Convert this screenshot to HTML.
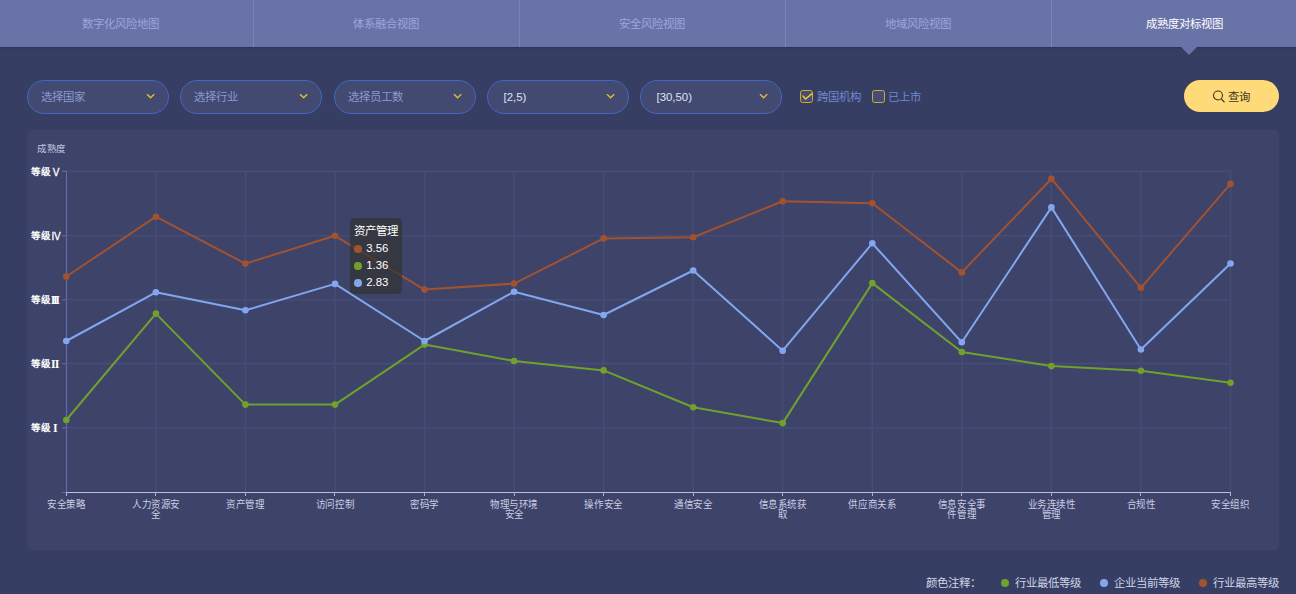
<!DOCTYPE html>
<html lang="zh-CN">
<head>
<meta charset="utf-8">
<title>成熟度对标视图</title>
<style>
*{box-sizing:border-box;margin:0;padding:0}
html,body{width:1296px;height:594px;overflow:hidden;background:#373e63}
body{position:relative;font-family:"Liberation Sans",sans-serif;font-size:11.4px;color:#fff}
.tabs{position:absolute;left:0;top:0;width:1296px;height:47px;background:#6a73a8;box-shadow:0 1px 1px rgba(30,34,70,.3)}
.tab{position:absolute;top:0;width:266px;height:47px;line-height:47px;padding-top:1px;text-align:center;color:#9aa7df;font-size:11.4px;white-space:nowrap}
.tab.on{color:#fff}
.dv{position:absolute;top:0;width:1px;height:47px;background:#7a84b8}
.tri{position:absolute;left:1180.7px;top:47px;width:0;height:0;border-left:8px solid transparent;border-right:8px solid transparent;border-top:8.5px solid #6a73a8}
.sel{position:absolute;top:80px;width:142px;height:34px;border:1px solid #4166c5;border-radius:17px;background:#434a72;line-height:32px;padding-left:12.5px;font-size:11.4px;white-space:nowrap}
.sel .ph{color:#8b98d0}
.sel .val{color:#dfe3f5;padding-left:3px}
.chev{position:absolute;left:118px;top:12px}
.cb{position:absolute;top:90px;width:12.6px;height:12.8px;border:1.4px solid #cdae20;border-radius:2.6px;background:#454c78}
.cbt{position:absolute;top:88.5px;height:16px;line-height:16px;color:#7088d2;font-size:11.4px;white-space:nowrap}
.btn{position:absolute;left:1184px;top:80px;width:95px;height:32px;border-radius:16px;background:#fedb78;color:#3b3622;font-size:11.4px;line-height:32px;white-space:nowrap}
.btn span{position:absolute;left:44px;top:1px}
.btn svg{position:absolute;left:28.3px;top:10.3px}
.panel{position:absolute;left:26.6px;top:129.8px;width:1252.6px;height:419.8px;background:#3e4369;border-radius:5px}
.chart{position:absolute;left:0;top:0}
.ttl{position:absolute;left:37px;top:143px;font-size:9.5px;letter-spacing:-0.3px;line-height:12px;color:#c4c9e2;white-space:nowrap}
.yl{position:absolute;left:31px;text-align:left;font-size:9.5px;line-height:14px;color:#fff;font-weight:bold;white-space:nowrap}
.yl b{display:inline-block;width:9.6px;text-align:center;margin-left:0.2px}
.rn{font-family:"Liberation Serif",serif;font-size:12px;letter-spacing:-2.4px;text-indent:-2.4px;line-height:10px;position:relative;top:0.8px;left:-0.7px}
.rs{font-size:10px;line-height:10px;font-weight:normal;-webkit-text-stroke:0.3px #fff;position:relative;top:0.7px}
.xl{position:absolute;top:499px;width:80px;text-align:center;font-size:9.5px;letter-spacing:-0.45px;line-height:9.2px;transform:scaleY(1.09);transform-origin:50% 0;color:#c9cde3;white-space:nowrap}
.tip{position:absolute;left:350px;top:217.6px;width:52.2px;height:76.5px;background:rgba(50,50,50,.7);border-radius:4px;padding:4px;font-size:11.4px;line-height:17.4px;color:#fff;white-space:nowrap}
.tr{position:absolute;left:4.2px;height:17px;line-height:17px}
.tip i{display:inline-block;width:7.6px;height:7.6px;border-radius:50%;margin-right:4.4px;vertical-align:-0.5px}
.lg{position:absolute;top:575px;height:16px;line-height:16px;font-size:11.4px;color:#d0d4e8;white-space:nowrap}
.ld{position:absolute;top:579.1px;width:8.4px;height:8.4px;border-radius:50%}
</style>
</head>
<body>
<div class="tabs">
<div class="tab" style="left:-13px">数字化风险地图</div>
<div class="dv" style="left:253px"></div>
<div class="tab" style="left:253px">体系融合视图</div>
<div class="dv" style="left:519px"></div>
<div class="tab" style="left:519px">安全风险视图</div>
<div class="dv" style="left:785px"></div>
<div class="tab" style="left:785px">地域风险视图</div>
<div class="dv" style="left:1051px"></div>
<div class="tab on" style="left:1051px">成熟度对标视图</div>
</div>
<div class="tri"></div>
<div class="sel" style="left:27px"><span class="ph">选择国家</span><svg class="chev" width="10" height="7" viewBox="0 0 10 7"><path d="M1.3 1.6 L4.6 4.7 L7.9 1.6" fill="none" stroke="#e4c22b" stroke-width="1.35" stroke-linecap="round" stroke-linejoin="round"/></svg></div>
<div class="sel" style="left:180px"><span class="ph">选择行业</span><svg class="chev" width="10" height="7" viewBox="0 0 10 7"><path d="M1.3 1.6 L4.6 4.7 L7.9 1.6" fill="none" stroke="#e4c22b" stroke-width="1.35" stroke-linecap="round" stroke-linejoin="round"/></svg></div>
<div class="sel" style="left:334px"><span class="ph">选择员工数</span><svg class="chev" width="10" height="7" viewBox="0 0 10 7"><path d="M1.3 1.6 L4.6 4.7 L7.9 1.6" fill="none" stroke="#e4c22b" stroke-width="1.35" stroke-linecap="round" stroke-linejoin="round"/></svg></div>
<div class="sel" style="left:487px"><span class="val">[2,5)</span><svg class="chev" width="10" height="7" viewBox="0 0 10 7"><path d="M1.3 1.6 L4.6 4.7 L7.9 1.6" fill="none" stroke="#e4c22b" stroke-width="1.35" stroke-linecap="round" stroke-linejoin="round"/></svg></div>
<div class="sel" style="left:640px"><span class="val">[30,50)</span><svg class="chev" width="10" height="7" viewBox="0 0 10 7"><path d="M1.3 1.6 L4.6 4.7 L7.9 1.6" fill="none" stroke="#e4c22b" stroke-width="1.35" stroke-linecap="round" stroke-linejoin="round"/></svg></div>

<div class="cb" style="left:800px"><svg width="13" height="13" viewBox="0 0 13 13" style="position:absolute;left:-1.5px;top:-1.5px"><path d="M3 6 L5.6 9 L12 3.6" fill="none" stroke="#f0cf1f" stroke-width="1.5" stroke-linecap="round" stroke-linejoin="round"/></svg></div>
<div class="cbt" style="left:816.5px">跨国机构</div>
<div class="cb" style="left:872px"></div>
<div class="cbt" style="left:887.5px">已上市</div>
<div class="btn"><svg width="14" height="14" viewBox="0 0 14 14"><circle cx="6" cy="5.5" r="4.5" fill="none" stroke="#3b3622" stroke-width="1.1"/><path d="M9.2 8.8 L12.2 12" stroke="#3b3622" stroke-width="1.1" stroke-linecap="round"/></svg><span>查询</span></div>
<div class="panel"></div>
<svg class="chart" width="1296" height="594" viewBox="0 0 1296 594">
<line x1="66" y1="171.4" x2="1231" y2="171.4" stroke="#454c75" stroke-width="1.6"/>
<line x1="66" y1="235.7" x2="1231" y2="235.7" stroke="#454c75" stroke-width="1.6"/>
<line x1="66" y1="299.8" x2="1231" y2="299.8" stroke="#454c75" stroke-width="1.6"/>
<line x1="66" y1="363.6" x2="1231" y2="363.6" stroke="#454c75" stroke-width="1.6"/>
<line x1="66" y1="427.7" x2="1231" y2="427.7" stroke="#454c75" stroke-width="1.6"/>
<line x1="155.85" y1="171" x2="155.85" y2="492" stroke="#454c75" stroke-width="1.6"/>
<line x1="245.41" y1="171" x2="245.41" y2="492" stroke="#454c75" stroke-width="1.6"/>
<line x1="334.96" y1="171" x2="334.96" y2="492" stroke="#454c75" stroke-width="1.6"/>
<line x1="424.51" y1="171" x2="424.51" y2="492" stroke="#454c75" stroke-width="1.6"/>
<line x1="514.06" y1="171" x2="514.06" y2="492" stroke="#454c75" stroke-width="1.6"/>
<line x1="603.62" y1="171" x2="603.62" y2="492" stroke="#454c75" stroke-width="1.6"/>
<line x1="693.17" y1="171" x2="693.17" y2="492" stroke="#454c75" stroke-width="1.6"/>
<line x1="782.72" y1="171" x2="782.72" y2="492" stroke="#454c75" stroke-width="1.6"/>
<line x1="872.28" y1="171" x2="872.28" y2="492" stroke="#454c75" stroke-width="1.6"/>
<line x1="961.83" y1="171" x2="961.83" y2="492" stroke="#454c75" stroke-width="1.6"/>
<line x1="1051.38" y1="171" x2="1051.38" y2="492" stroke="#454c75" stroke-width="1.6"/>
<line x1="1140.94" y1="171" x2="1140.94" y2="492" stroke="#454c75" stroke-width="1.6"/>
<line x1="1230.49" y1="171" x2="1230.49" y2="492" stroke="#454c75" stroke-width="1.6"/>
<line x1="66.5" y1="171" x2="66.5" y2="492" stroke="#5e6db0" stroke-width="1.15"/>
<line x1="62" y1="171.4" x2="67" y2="171.4" stroke="#5a69ad" stroke-width="1.2"/>
<line x1="62" y1="235.7" x2="67" y2="235.7" stroke="#5a69ad" stroke-width="1.2"/>
<line x1="62" y1="299.8" x2="67" y2="299.8" stroke="#5a69ad" stroke-width="1.2"/>
<line x1="62" y1="363.6" x2="67" y2="363.6" stroke="#5a69ad" stroke-width="1.2"/>
<line x1="62" y1="427.7" x2="67" y2="427.7" stroke="#5a69ad" stroke-width="1.2"/>
<line x1="62" y1="492.5" x2="67" y2="492.5" stroke="#5a69ad" stroke-width="1.2"/>
<line x1="66" y1="492.5" x2="1231" y2="492.5" stroke="#b6bddd" stroke-width="1"/>
<line x1="66.5" y1="492" x2="66.5" y2="496" stroke="#a9b1d5" stroke-width="1"/>
<line x1="155.5" y1="492" x2="155.5" y2="496" stroke="#a9b1d5" stroke-width="1"/>
<line x1="245.5" y1="492" x2="245.5" y2="496" stroke="#a9b1d5" stroke-width="1"/>
<line x1="334.5" y1="492" x2="334.5" y2="496" stroke="#a9b1d5" stroke-width="1"/>
<line x1="424.5" y1="492" x2="424.5" y2="496" stroke="#a9b1d5" stroke-width="1"/>
<line x1="514.5" y1="492" x2="514.5" y2="496" stroke="#a9b1d5" stroke-width="1"/>
<line x1="603.5" y1="492" x2="603.5" y2="496" stroke="#a9b1d5" stroke-width="1"/>
<line x1="693.5" y1="492" x2="693.5" y2="496" stroke="#a9b1d5" stroke-width="1"/>
<line x1="782.5" y1="492" x2="782.5" y2="496" stroke="#a9b1d5" stroke-width="1"/>
<line x1="872.5" y1="492" x2="872.5" y2="496" stroke="#a9b1d5" stroke-width="1"/>
<line x1="961.5" y1="492" x2="961.5" y2="496" stroke="#a9b1d5" stroke-width="1"/>
<line x1="1051.5" y1="492" x2="1051.5" y2="496" stroke="#a9b1d5" stroke-width="1"/>
<line x1="1140.5" y1="492" x2="1140.5" y2="496" stroke="#a9b1d5" stroke-width="1"/>
<line x1="1230.5" y1="492" x2="1230.5" y2="496" stroke="#a9b1d5" stroke-width="1"/>
<polyline points="66.3,276.5 155.9,216.7 245.4,263.6 335.0,235.8 424.5,289.6 514.1,283.6 603.6,238.4 693.2,237.3 782.7,201.2 872.3,203.2 961.8,272.4 1051.4,178.7 1140.9,287.8 1230.5,183.9" fill="none" stroke="#a2522e" stroke-width="2" stroke-linejoin="bevel"/>
<circle cx="66.3" cy="276.5" r="3.3" fill="#a2522e"/><circle cx="155.9" cy="216.7" r="3.3" fill="#a2522e"/><circle cx="245.4" cy="263.6" r="3.3" fill="#a2522e"/><circle cx="335.0" cy="235.8" r="3.3" fill="#a2522e"/><circle cx="424.5" cy="289.6" r="3.3" fill="#a2522e"/><circle cx="514.1" cy="283.6" r="3.3" fill="#a2522e"/><circle cx="603.6" cy="238.4" r="3.3" fill="#a2522e"/><circle cx="693.2" cy="237.3" r="3.3" fill="#a2522e"/><circle cx="782.7" cy="201.2" r="3.3" fill="#a2522e"/><circle cx="872.3" cy="203.2" r="3.3" fill="#a2522e"/><circle cx="961.8" cy="272.4" r="3.3" fill="#a2522e"/><circle cx="1051.4" cy="178.7" r="3.3" fill="#a2522e"/><circle cx="1140.9" cy="287.8" r="3.3" fill="#a2522e"/><circle cx="1230.5" cy="183.9" r="3.3" fill="#a2522e"/>
<polyline points="66.3,420.0 155.9,313.6 245.4,404.6 335.0,404.6 424.5,344.6 514.1,361.0 603.6,370.4 693.2,407.2 782.7,423.1 872.3,283.1 961.8,352.0 1051.4,366.1 1140.9,370.7 1230.5,382.7" fill="none" stroke="#70a12d" stroke-width="2" stroke-linejoin="bevel"/>
<circle cx="66.3" cy="420.0" r="3.3" fill="#70a12d"/><circle cx="155.9" cy="313.6" r="3.3" fill="#70a12d"/><circle cx="245.4" cy="404.6" r="3.3" fill="#70a12d"/><circle cx="335.0" cy="404.6" r="3.3" fill="#70a12d"/><circle cx="424.5" cy="344.6" r="3.3" fill="#70a12d"/><circle cx="514.1" cy="361.0" r="3.3" fill="#70a12d"/><circle cx="603.6" cy="370.4" r="3.3" fill="#70a12d"/><circle cx="693.2" cy="407.2" r="3.3" fill="#70a12d"/><circle cx="782.7" cy="423.1" r="3.3" fill="#70a12d"/><circle cx="872.3" cy="283.1" r="3.3" fill="#70a12d"/><circle cx="961.8" cy="352.0" r="3.3" fill="#70a12d"/><circle cx="1051.4" cy="366.1" r="3.3" fill="#70a12d"/><circle cx="1140.9" cy="370.7" r="3.3" fill="#70a12d"/><circle cx="1230.5" cy="382.7" r="3.3" fill="#70a12d"/>
<polyline points="66.3,341.0 155.9,292.3 245.4,310.3 335.0,283.9 424.5,341.0 514.1,291.7 603.6,315.0 693.2,270.5 782.7,350.7 872.3,243.3 961.8,342.3 1051.4,207.4 1140.9,349.5 1230.5,263.5" fill="none" stroke="#83a6f0" stroke-width="2" stroke-linejoin="bevel"/>
<circle cx="66.3" cy="341.0" r="3.3" fill="#83a6f0"/><circle cx="155.9" cy="292.3" r="3.3" fill="#83a6f0"/><circle cx="245.4" cy="310.3" r="3.3" fill="#83a6f0"/><circle cx="335.0" cy="283.9" r="3.3" fill="#83a6f0"/><circle cx="424.5" cy="341.0" r="3.3" fill="#83a6f0"/><circle cx="514.1" cy="291.7" r="3.3" fill="#83a6f0"/><circle cx="603.6" cy="315.0" r="3.3" fill="#83a6f0"/><circle cx="693.2" cy="270.5" r="3.3" fill="#83a6f0"/><circle cx="782.7" cy="350.7" r="3.3" fill="#83a6f0"/><circle cx="872.3" cy="243.3" r="3.3" fill="#83a6f0"/><circle cx="961.8" cy="342.3" r="3.3" fill="#83a6f0"/><circle cx="1051.4" cy="207.4" r="3.3" fill="#83a6f0"/><circle cx="1140.9" cy="349.5" r="3.3" fill="#83a6f0"/><circle cx="1230.5" cy="263.5" r="3.3" fill="#83a6f0"/>
</svg>

<div class="ttl">成熟度</div>
<div class="yl" style="top:165.0px">等级<b class="rs">V</b></div>
<div class="yl" style="top:229.3px">等级<b class="rs" style="letter-spacing:-0.3px">IV</b></div>
<div class="yl" style="top:293.4px">等级<b class="rn">III</b></div>
<div class="yl" style="top:357.2px">等级<b class="rn" style="letter-spacing:-0.9px;text-indent:-0.9px">II</b></div>
<div class="yl" style="top:421.3px">等级<b class="rn">I</b></div>

<div class="xl" style="left:26.3px">安全策略</div>
<div class="xl" style="left:115.9px">人力资源安<br>全</div>
<div class="xl" style="left:205.4px">资产管理</div>
<div class="xl" style="left:295.0px">访问控制</div>
<div class="xl" style="left:384.5px">密码学</div>
<div class="xl" style="left:474.1px">物理与环境<br>安全</div>
<div class="xl" style="left:563.6px">操作安全</div>
<div class="xl" style="left:653.2px">通信安全</div>
<div class="xl" style="left:742.7px">信息系统获<br>取</div>
<div class="xl" style="left:832.3px">供应商关系</div>
<div class="xl" style="left:921.8px">信息安全事<br>件管理</div>
<div class="xl" style="left:1011.4px">业务连续性<br>管理</div>
<div class="xl" style="left:1100.9px">合规性</div>
<div class="xl" style="left:1190.5px">安全组织</div>

<div class="tip"><div class="tr" style="top:5.6px">资产管理</div><div class="tr" style="top:22.6px"><i style="background:#a2522e"></i>3.56</div><div class="tr" style="top:39.6px"><i style="background:#70a12d"></i>1.36</div><div class="tr" style="top:56.6px"><i style="background:#83a6f0"></i>2.83</div></div>
<div class="lg" style="left:926px">颜色注释：</div>
<div class="ld" style="left:1000.7px;background:#70a12d"></div><div class="lg" style="left:1014.5px">行业最低等级</div>
<div class="ld" style="left:1099.6px;background:#83a6f0"></div><div class="lg" style="left:1113.7px">企业当前等级</div>
<div class="ld" style="left:1198.7px;background:#a2522e"></div><div class="lg" style="left:1213px">行业最高等级</div>
</body>
</html>
